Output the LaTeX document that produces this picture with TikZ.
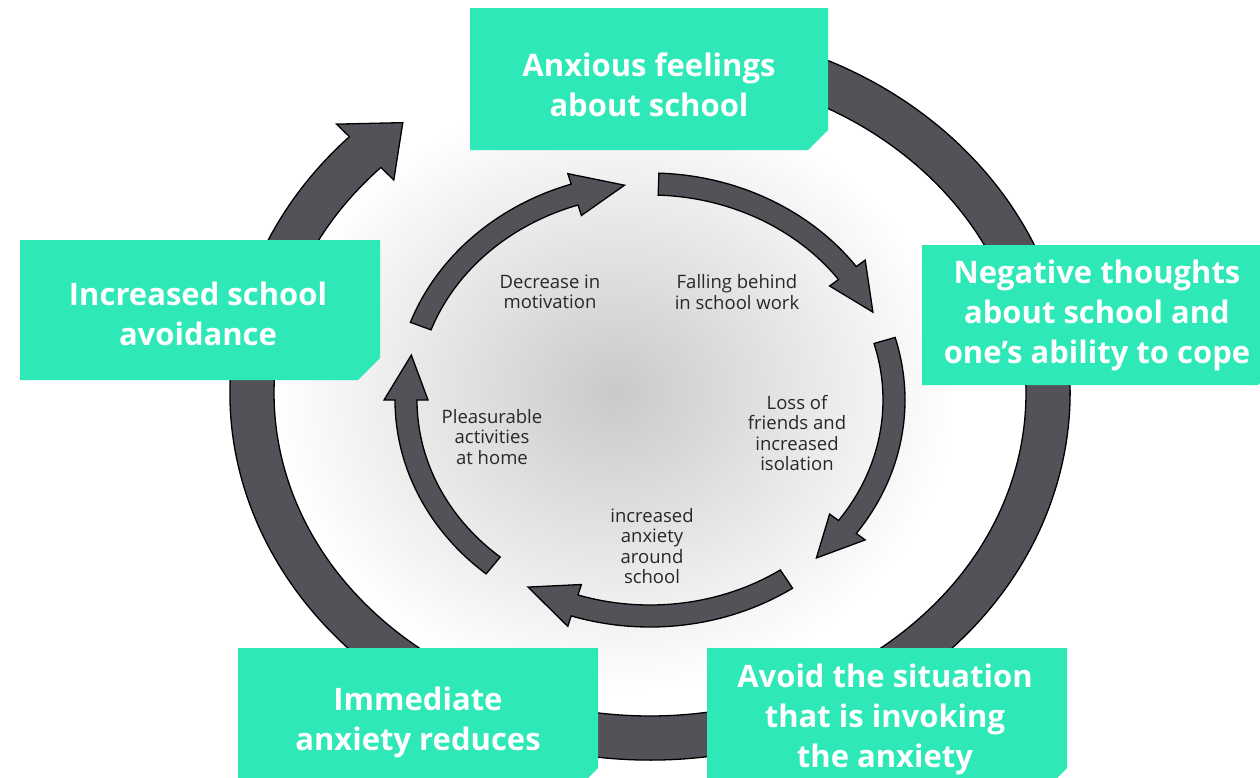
\documentclass[tikz,border=0pt]{standalone}
\usepackage{fontspec}
\setmainfont{Open Sans}
\definecolor{mint}{RGB}{46,232,184}
\definecolor{bandgray}{RGB}{82,82,88}
\definecolor{inktext}{RGB}{40,40,40}
\tikzset{
  boxfill/.style={fill=mint},
  boxtext/.style={text=white, font=\bfseries\fontsize{31}{40}\selectfont, align=center, inner sep=0pt},
  innertext/.style={text=inktext, font=\fontsize{18.5}{20.5}\selectfont, align=center, inner sep=0pt},
  band/.style={fill=bandgray, draw=black, line width=1.3pt, line join=miter},
}
% #1 cx, #2 cy, #3 rx, #4 ry, #5 tail angle, #6 head base angle, #7 tip angle, #8 half band, #9 half head
\newcommand{\bandarrow}[9]{%
  \pgfmathsetmacro\bro{#3+#8}\pgfmathsetmacro\bso{#4+#8}%
  \pgfmathsetmacro\bri{#3-#8}\pgfmathsetmacro\bsi{#4-#8}%
  \pgfmathsetmacro\bho{#3+#9}\pgfmathsetmacro\bhso{#4+#9}%
  \pgfmathsetmacro\bhi{#3-#9}\pgfmathsetmacro\bhsi{#4-#9}%
  \path[band] ({#1+\bro*cos(#5)},{#2+\bso*sin(#5)})
    arc[start angle=#5, end angle=#6, x radius=\bro, y radius=\bso]
    -- ({#1+\bho*cos(#6)},{#2+\bhso*sin(#6)})
    -- ({#1+#3*cos(#7)},{#2+#4*sin(#7)})
    -- ({#1+\bhi*cos(#6)},{#2+\bhsi*sin(#6)})
    -- ({#1+\bri*cos(#6)},{#2+\bsi*sin(#6)})
    arc[start angle=#6, end angle=#5, x radius=\bri, y radius=\bsi]
    -- cycle;}
\newcommand{\chambox}[5]{\fill[boxfill] ({#1},{#2}) -- ({#3},{#2}) -- ({#3},{#4-#5}) -- ({#3-#5},{#4}) -- ({#1},{#4}) -- cycle;}
\begin{document}
\begin{tikzpicture}[x=1pt,y=-1pt]
\useasboundingbox (0,0) rectangle (1260,777);
\clip (0,0) rectangle (1260,777);
\fill[white] (0,0) rectangle (1260,777);
\shade[inner color=black!21, outer color=white] (615,392) ellipse [x radius=340, y radius=300];
% outer cycle
\bandarrow{650}{393}{398}{345}{-75}{224.3}{231.6}{22}{40}
% inner cycle
\bandarrow{650}{400}{244}{216}{-160}{-108}{-96}{11}{22}
\bandarrow{650}{400}{244}{216}{-88}{-36}{-24}{11}{22}
\bandarrow{650}{400}{244}{216}{-16}{36}{47}{11}{22}
\bandarrow{650}{400}{244}{216}{56}{108}{120}{11}{22}
\bandarrow{650}{400}{244}{216}{130}{180}{192}{11}{22}
% boxes
\chambox{470}{8}{828}{150}{20}
\chambox{20}{240}{380}{380}{22}
\chambox{922}{245}{1280}{385}{22}
\chambox{238}{648}{598}{790}{22}
\chambox{707}{648}{1067}{790}{22}
\node[boxtext] (anx) at (649,85) {Anxious feelings\\about school};
\node[boxtext] (neg) at (1097,315) {Negative thoughts\\about school and\\one’s ability to cope};
\node[boxtext] (avoid) at (885,719) {Avoid the situation\\that is invoking\\the anxiety};
\node[boxtext] (imm) at (418,722) {Immediate\\anxiety reduces};
\node[boxtext] (inc) at (198,314) {Increased school\\avoidance};
% inner labels
\node[innertext] (mot) at (550,292) {Decrease in\\motivation};
\node[innertext] (fall) at (737,292) {Falling behind\\in school work};
\node[innertext] (loss) at (797,433) {Loss of\\friends and\\increased\\isolation};
\node[innertext] (pleas) at (492,437) {Pleasurable\\activities\\at home};
\node[innertext] (incanx) at (652,546) {increased\\anxiety\\around\\school};
\end{tikzpicture}
\end{document}
